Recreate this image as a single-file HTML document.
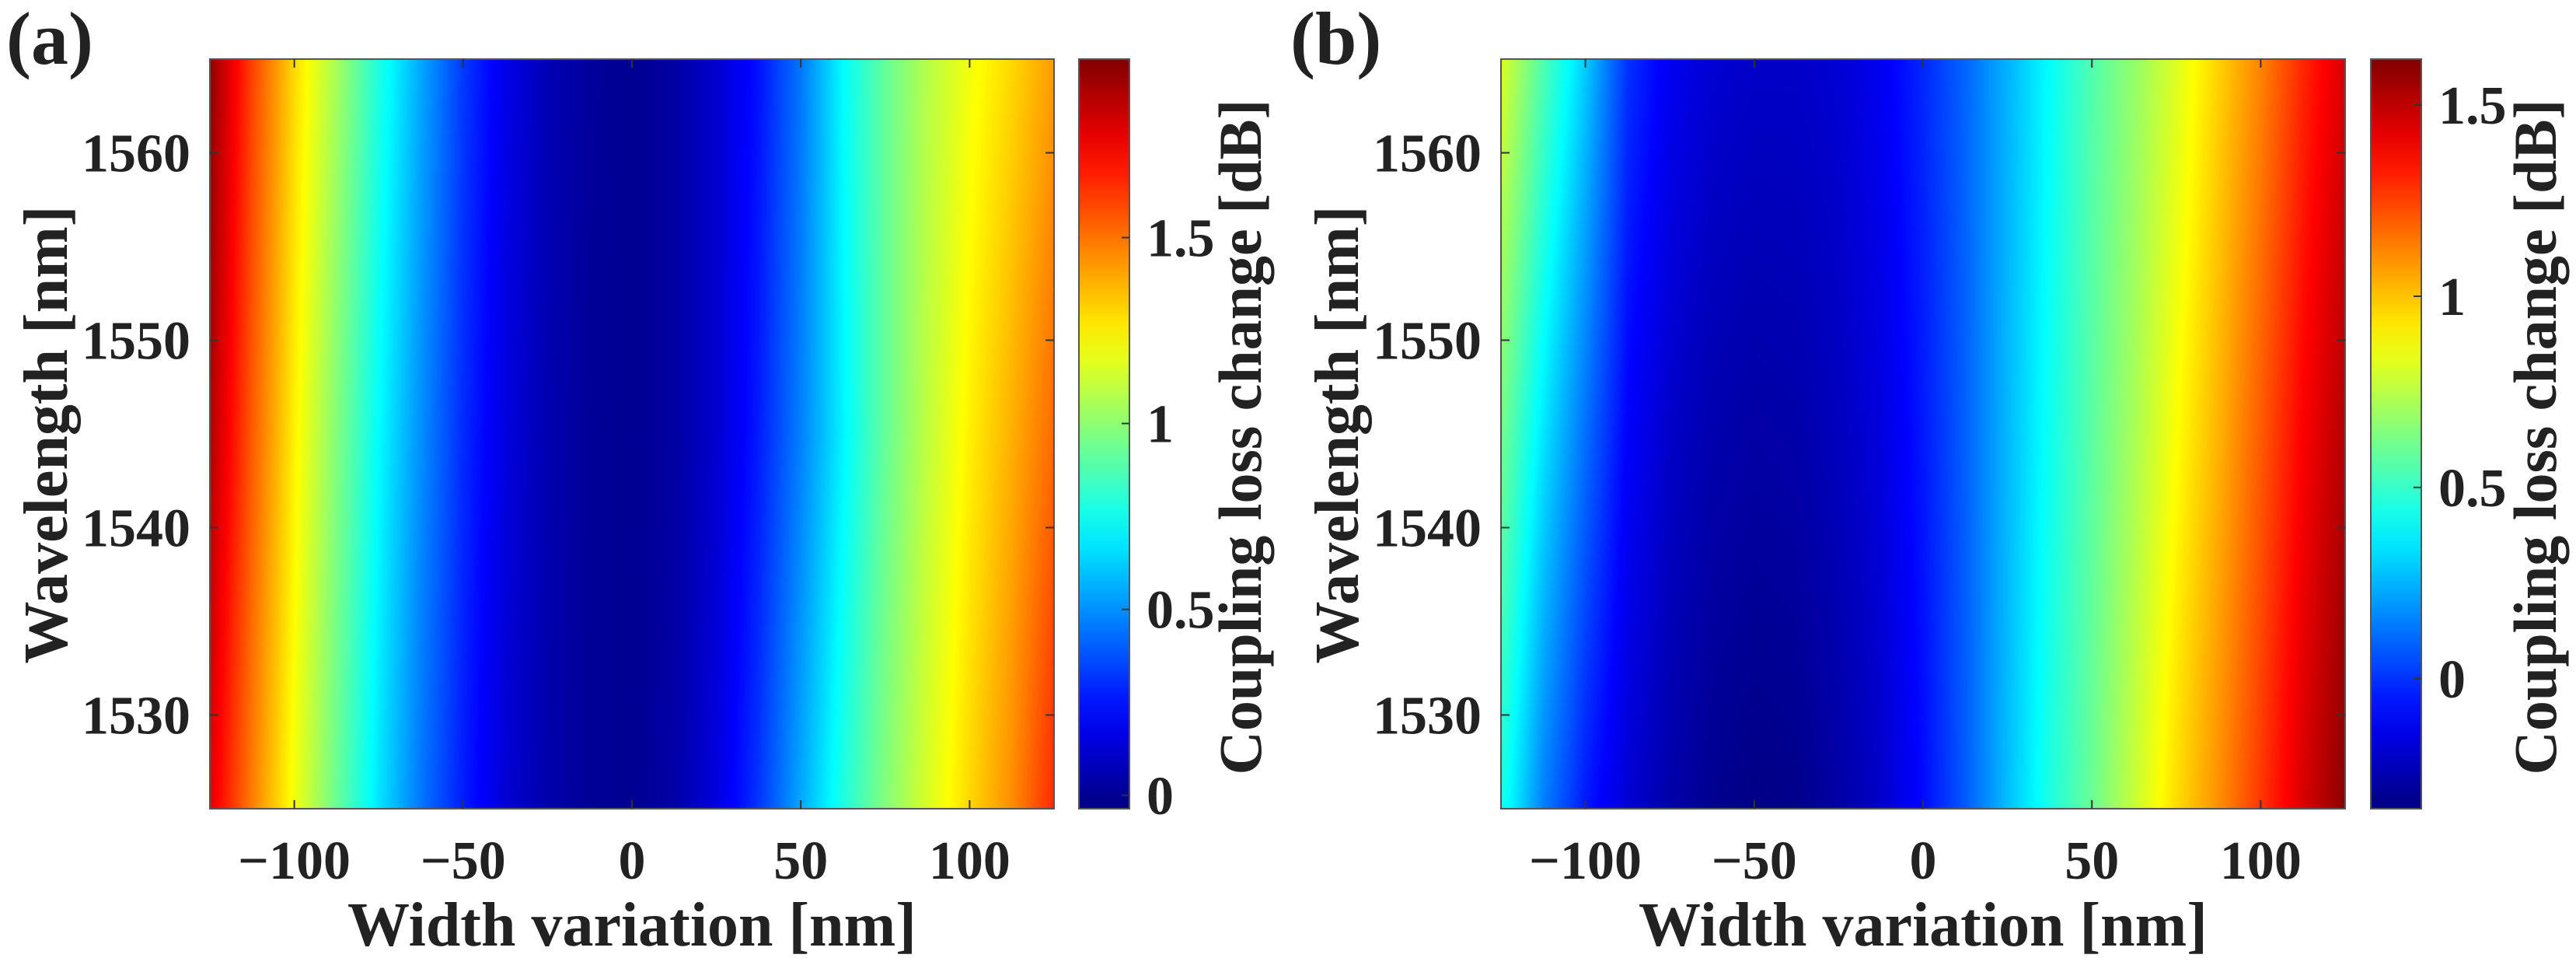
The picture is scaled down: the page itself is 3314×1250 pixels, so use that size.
<!DOCTYPE html>
<html><head><meta charset="utf-8"><style>
html,body{margin:0;padding:0;background:#fff;}
body{width:3314px;height:1250px;position:relative;overflow:hidden;font-family:"Liberation Serif",serif;}
svg{position:absolute;left:0;top:0;}
text{font-family:"Liberation Serif",serif;font-weight:bold;fill:#222;}
</style></head><body>
<svg id="fig" width="3314" height="1250"></svg>
<script>
// ---- data ----
const widths = [-125,-112.5,-100,-87.5,-75,-62.5,-50,-37.5,-25,-12.5,0,12.5,25,37.5,50,62.5,75,87.5,100,112.5,125];
const wavelengths = [1525,1545,1565];
const lossA1525 = [1.78,1.48,1.2,0.93,0.67,0.45,0.27,0.13,0.05,0.01,0.0,0.04,0.15,0.32,0.55,0.78,0.98,1.15,1.3,1.45,1.65];
const lossA1545 = [1.88,1.55,1.25,0.98,0.72,0.5,0.3,0.15,0.06,0.01,0.0,0.03,0.12,0.27,0.47,0.7,0.92,1.1,1.25,1.38,1.52];
const lossA1565 = [1.95,1.6,1.3,1.05,0.78,0.55,0.33,0.17,0.07,0.02,0.0,0.03,0.12,0.25,0.45,0.72,0.92,1.08,1.2,1.3,1.42];
const lossB1525 = [0.45,0.15,-0.05,-0.18,-0.26,-0.31,-0.33,-0.32,-0.27,-0.2,-0.08,0.08,0.27,0.45,0.6,0.78,0.95,1.1,1.27,1.45,1.6];
const lossB1545 = [0.62,0.35,0.12,-0.1,-0.2,-0.25,-0.27,-0.26,-0.22,-0.16,-0.05,0.09,0.26,0.42,0.57,0.72,0.88,1.03,1.2,1.38,1.52];
const lossB1565 = [0.82,0.55,0.3,0.0,-0.12,-0.18,-0.2,-0.2,-0.18,-0.12,-0.02,0.1,0.25,0.4,0.55,0.68,0.82,0.97,1.12,1.3,1.45];
const xTicks = [-100,-50,0,50,100];
const xTickLabels = ["\u2212100","\u221250","0","50","100"];
const yTicks = [1530,1540,1550,1560];
const cbTicksA = [0,0.5,1,1.5];
const cbTicksB = [0,0.5,1,1.5];
const climA = [-0.036,1.98];
const climB = [-0.34,1.62];

const NS="http://www.w3.org/2000/svg";
const svg=document.getElementById('fig');
function el(tag,attrs,parent){const e=document.createElementNS(NS,tag);for(const k in attrs)e.setAttribute(k,attrs[k]);(parent||svg).appendChild(e);return e;}
function jet(t){t=Math.max(0,Math.min(1,t));
  const r=Math.max(0,Math.min(1,1.5-Math.abs(4*t-3)));
  const g=Math.max(0,Math.min(1,1.5-Math.abs(4*t-2)));
  const b=Math.max(0,Math.min(1,1.5-Math.abs(4*t-1)));
  return [Math.round(r*255),Math.round(g*255),Math.round(b*255)];}
function interp1(xs,ys,x){if(x<=xs[0])return ys[0];for(let i=0;i<xs.length-1;i++){if(x<=xs[i+1]){const f=(x-xs[i])/(xs[i+1]-xs[i]);return ys[i]+f*(ys[i+1]-ys[i]);}}return ys[ys.length-1];}

function panel(cfg){
  const g=el('g',{});
  
  
  const L=cfg.x0,R=cfg.x1,T=76,B=1040,W=R-L,H=B-T;
  const xs=v=>L+(v+125)/250*W;
  const ys=v=>B-(v-1525)/40*H;
  const rows=cfg.rows;
  // heatmap via canvas -> svg image
  const cv=document.createElement('canvas');cv.width=W;cv.height=H;
  const ctx=cv.getContext('2d');const img=ctx.createImageData(W,H);
  const colVals=[];
  for(let px=0;px<W;px++){const w=-125+(px+0.5)/W*250;colVals.push(rows.map(r=>interp1(widths,r,w)));}
  for(let py=0;py<H;py++){const lam=1565-(py+0.5)/H*40;
    for(let px=0;px<W;px++){const v=interp1(wavelengths,colVals[px],lam);
      const c=jet((v-cfg.clim[0])/(cfg.clim[1]-cfg.clim[0]));const i=(py*W+px)*4;
      img.data[i]=c[0];img.data[i+1]=c[1];img.data[i+2]=c[2];img.data[i+3]=255;}}
  ctx.putImageData(img,0,0);
  const im=el('image',{x:L,y:T,width:W,height:H,href:cv.toDataURL()},g);
  
  
  const fr=el('rect',{x:L,y:T,width:W,height:H,fill:'none',stroke:'#555','stroke-width':2},g);
  
  
  xTicks.forEach((v,i)=>{const x=xs(v);
    el('line',{x1:x,x2:x,y1:B,y2:B-11,stroke:'#333','stroke-width':2},g);
    el('line',{x1:x,x2:x,y1:T,y2:T+11,stroke:'#333','stroke-width':2},g);
    const t=el('text',{x:x,y:1130,'font-size':70,'text-anchor':'middle'},g);t.textContent=xTickLabels[i];
    
    });
  yTicks.forEach(v=>{const y=ys(v);
    el('line',{x1:L,x2:L+11,y1:y,y2:y,stroke:'#333','stroke-width':2},g);
    el('line',{x1:R,x2:R-11,y1:y,y2:y,stroke:'#333','stroke-width':2},g);
    const t=el('text',{x:L-25,y:y+24,'font-size':70,'text-anchor':'end'},g);t.textContent=v;
    
    });
  const xl=el('text',{x:(L+R)/2,y:1216,'font-size':80,'text-anchor':'middle'},g);xl.textContent='Width variation [nm]';
  
  
  const yl=el('text',{x:0,y:0,'font-size':80,'text-anchor':'middle',transform:`translate(${cfg.ylx},559) rotate(-90)`},g);yl.textContent='Wavelength [nm]';
  
  
  // colorbar
  const cx=cfg.cbx,cw=65;
  const cg=el('linearGradient',{id:'grad'+cfg.name,x1:0,y1:1,x2:0,y2:0},g);
  for(let i=0;i<=20;i++){const c=jet(i/20);el('stop',{offset:i/20,'stop-color':`rgb(${c})`},cg);}
  const cb=el('rect',{x:cx,y:T,width:cw,height:H,fill:`url(#grad${cfg.name})`,stroke:'#555','stroke-width':2},g);
  
  
  const cys=v=>B-(v-cfg.clim[0])/(cfg.clim[1]-cfg.clim[0])*H;
  cfg.cbTicks.forEach(v=>{const y=cys(v);
    el('line',{x1:cx+cw,x2:cx+cw-10,y1:y,y2:y,stroke:'#333','stroke-width':2},g);
    const t=el('text',{x:cx+87,y:y+24,'font-size':70},g);t.textContent=String(v);
    
    });
  const cl=el('text',{x:0,y:0,'font-size':78,'text-anchor':'middle',transform:`translate(${cfg.clx},562) rotate(-90)`},g);cl.textContent='Coupling loss change [dB]';
  
  
  const pl=el('text',{x:cfg.plx,y:82,'font-size':96},g);pl.textContent=cfg.label;
  
  
}
panel({name:'panel-a',x0:270,x1:1356,cbx:1388,rows:[lossA1525,lossA1545,lossA1565],clim:climA,cbTicks:cbTicksA,ylx:86,clx:1622,plx:8,label:'(a)'});
panel({name:'panel-b',x0:1931,x1:3017,cbx:3050,rows:[lossB1525,lossB1545,lossB1565],clim:climB,cbTicks:cbTicksB,ylx:1747,clx:3288,plx:1660,label:'(b)'});
</script>
</body></html>
